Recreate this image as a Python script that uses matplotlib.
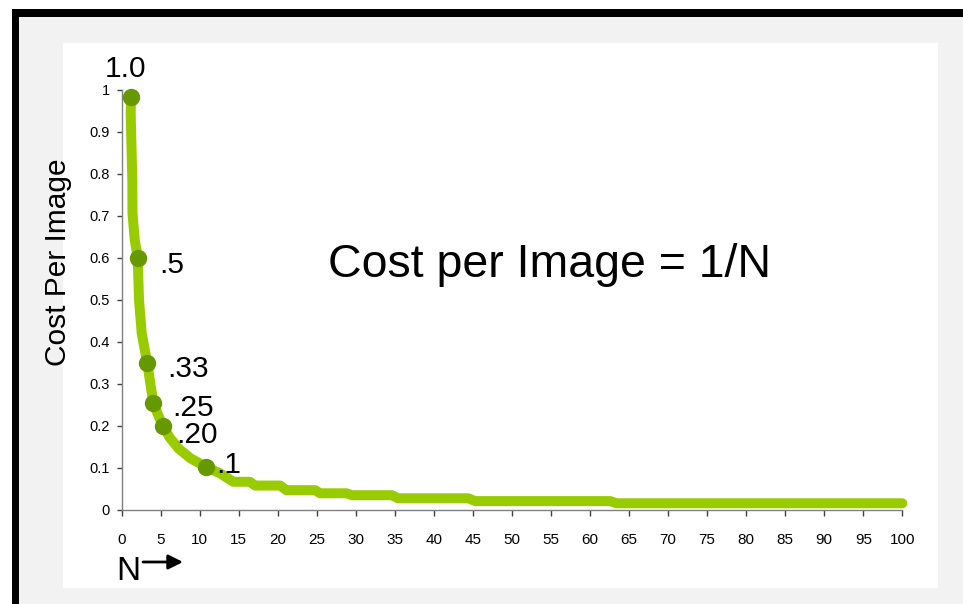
import matplotlib
matplotlib.use("Agg")
import matplotlib.pyplot as plt
from matplotlib.patches import Rectangle

plt.rcParams['font.family'] = ['Liberation Sans', 'DejaVu Sans']

# Curve
curve_n = [1.2, 1.15, 1.36, 1.38, 1.67, 2.05, 2.22, 2.56, 3.28, 4.05, 5.25, 6.2, 7.3, 8.8, 10.76,
           12.6, 14.3, 16.4, 17.1, 20.3, 21.1, 24.8, 25.4, 28.8, 29.5, 34.6, 35.4, 44.4,
           45.3, 62.6, 63.4, 100]
curve_cost = [0.983, 0.943, 0.784, 0.706, 0.642, 0.599, 0.499, 0.420, 0.348, 0.253, 0.199, 0.170, 0.145,
              0.122, 0.102,
              0.086, 0.066, 0.066, 0.057, 0.057, 0.046, 0.046, 0.0386, 0.0386, 0.034, 0.034, 0.0267, 0.0267,
              0.020, 0.020, 0.0148, 0.0148]

# Highlighted points
marker_n = [1.2, 2.05, 3.28, 4.05, 5.25, 10.76]
marker_cost = [0.983, 0.599, 0.348, 0.253, 0.199, 0.102]
marker_labels = ["1.0", ".5", ".33", ".25", ".20", ".1"]
label_offsets_px = [(-26, 20), (22, -15), (20, -14), (19, -13), (14, -17), (11, -6)]

x_ticks = list(range(0, 101, 5))
y_ticks = [0, 0.1, 0.2, 0.3, 0.4, 0.5, 0.6, 0.7, 0.8, 0.9, 1]
y_ticklabels = ["0", "0.1", "0.2", "0.3", "0.4", "0.5", "0.6", "0.7", "0.8", "0.9", "1"]

W, H = 963, 604
fig = plt.figure(figsize=(W / 100, H / 100), dpi=100)
fig.patch.set_facecolor('white')

def fx(px):
    return px / W

def fy(py):
    return 1 - py / H

# Frame: black border, gray background, white panel
fig.add_artist(Rectangle((fx(12), 0), 1 - fx(12), fy(9), transform=fig.transFigure,
                         facecolor='black', edgecolor='none', zorder=0))
fig.add_artist(Rectangle((fx(19), 0), 1 - fx(19), fy(16.5), transform=fig.transFigure,
                         facecolor='#f2f2f2', edgecolor='none', zorder=0))
fig.add_artist(Rectangle((fx(63), fy(588)), fx(938) - fx(63), fy(43) - fy(588),
                         transform=fig.transFigure, facecolor='white', edgecolor='none', zorder=0))

ax = fig.add_axes([fx(121.7), fy(509.5), fx(902.3) - fx(121.7), fy(89.5) - fy(509.5)])
ax.set_facecolor('none')
ax.set_xlim(0, 100)
ax.set_ylim(0, 1)

ax.plot(curve_n, curve_cost, color='#99cc00', lw=7.2, solid_capstyle='round',
        solid_joinstyle='round', zorder=3, clip_on=False)
ax.plot(marker_n, marker_cost, linestyle='none', marker='o', markersize=11.5,
        markerfacecolor='#669900', markeredgecolor='#669900', zorder=4, clip_on=False)

for n, c, lab, (dx, dy) in zip(marker_n, marker_cost, marker_labels, label_offsets_px):
    ax.annotate(lab, xy=(n, c), xytext=(dx, dy), textcoords='offset pixels',
                ha='left', va='baseline', fontsize=21.5, color='black')

for s in ['top', 'right']:
    ax.spines[s].set_visible(False)
for s in ['left', 'bottom']:
    ax.spines[s].set_color('#808080')
    ax.spines[s].set_linewidth(1.0)

ax.set_xticks(x_ticks)
ax.set_xticklabels([str(t) for t in x_ticks])
ax.set_yticks(y_ticks)
ax.set_yticklabels(y_ticklabels)
ax.tick_params(axis='x', direction='out', length=4, width=1, color='#404040',
               labelsize=11, pad=13)
ax.tick_params(axis='y', direction='out', length=3.5, width=1, color='#404040',
               labelsize=10.5, pad=5)

fig.text(fx(58), fy(262), "Cost Per Image", rotation=90, ha='center', va='center',
         fontsize=21.5)
fig.text(fx(549), fy(277), "Cost per Image = 1/N", ha='center', va='baseline',
         fontsize=33.5)

fig.text(fx(116), fy(580), "N", ha='left', va='baseline', fontsize=24)
ax.annotate('', xy=(fx(183), fy(562)), xytext=(fx(143), fy(562)),
            xycoords='figure fraction', textcoords='figure fraction',
            arrowprops=dict(arrowstyle='-|>', lw=2, color='black', mutation_scale=22,
                            shrinkA=0, shrinkB=0))

fig.savefig('out.png', dpi=100)
